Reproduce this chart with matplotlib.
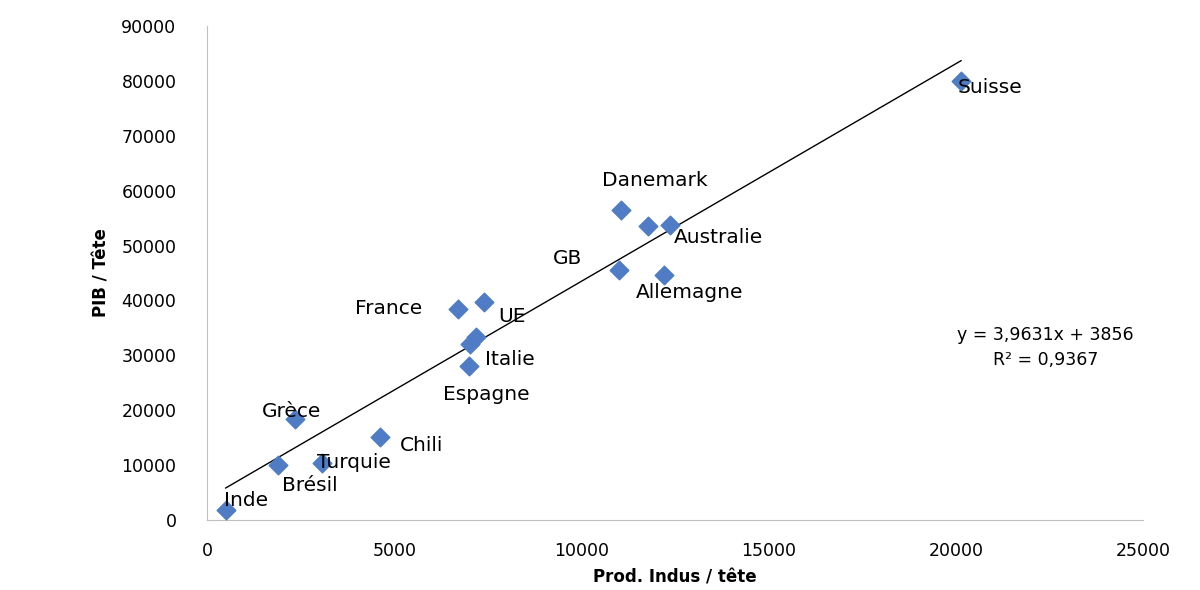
import matplotlib.pyplot as plt
import numpy as np

prod = [500, 1900, 2350, 3070, 4620, 6700, 7400, 7180, 7020, 7000, 11000, 11060, 11780, 12370, 12200, 20140]
pib = [1800, 10000, 18400, 10300, 15200, 38500, 39800, 33400, 32100, 28000, 45600, 56400, 53500, 53800, 44600, 80000]

labels = ["Danemark", "Australie", "GB", "Allemagne", "France", "UE", "Italie", "Espagne",
          "Grèce", "Chili", "Turquie", "Brésil", "Inde", "Suisse"]
label_x = [11970, 13650, 9640, 12900, 4860, 8150, 8090, 7450, 2270, 5740, 3930, 2750, 1040, 20910]
label_y = [61900, 51550, 47550, 41500, 38600, 37150, 29300, 22950, 19700, 13650, 10550, 6380, 3640, 78700]

slope, intercept = 3.9631, 3856

fig = plt.figure(figsize=(12, 5.9), dpi=100)
ax = fig.add_axes([0.1725, 0.1186, 0.78, 0.8374])

ax.scatter(prod, pib, marker="D", s=90, color="#4f7cc4", zorder=3)
xl = np.array([min(prod), max(prod)])
ax.plot(xl, slope * xl + intercept, color="black", lw=1)

for t, x, y in zip(labels, label_x, label_y):
    ax.text(x, y, t, ha="center", va="center", fontsize=14.5)

ax.text(22400, 31500, "y = 3,9631x + 3856\nR² = 0,9367", ha="center", va="center",
        fontsize=12.5, linespacing=1.5)

ax.set_xlim(0, 25000)
ax.set_ylim(0, 90000)
ax.set_xticks(range(0, 25001, 5000))
ax.set_yticks(range(0, 90001, 10000))
ax.tick_params(labelsize=12.5, length=0)
ax.tick_params(axis="y", pad=22)
ax.tick_params(axis="x", pad=16)
for s in ["top", "right"]:
    ax.spines[s].set_visible(False)
for s in ["left", "bottom"]:
    ax.spines[s].set_color("#bfbfbf")
ax.set_xlabel("Prod. Indus / tête", fontsize=12, fontweight="bold", labelpad=6)
ax.set_ylabel("PIB / Tête", fontsize=12, fontweight="bold", labelpad=8)

fig.savefig("out.png", dpi=100)
